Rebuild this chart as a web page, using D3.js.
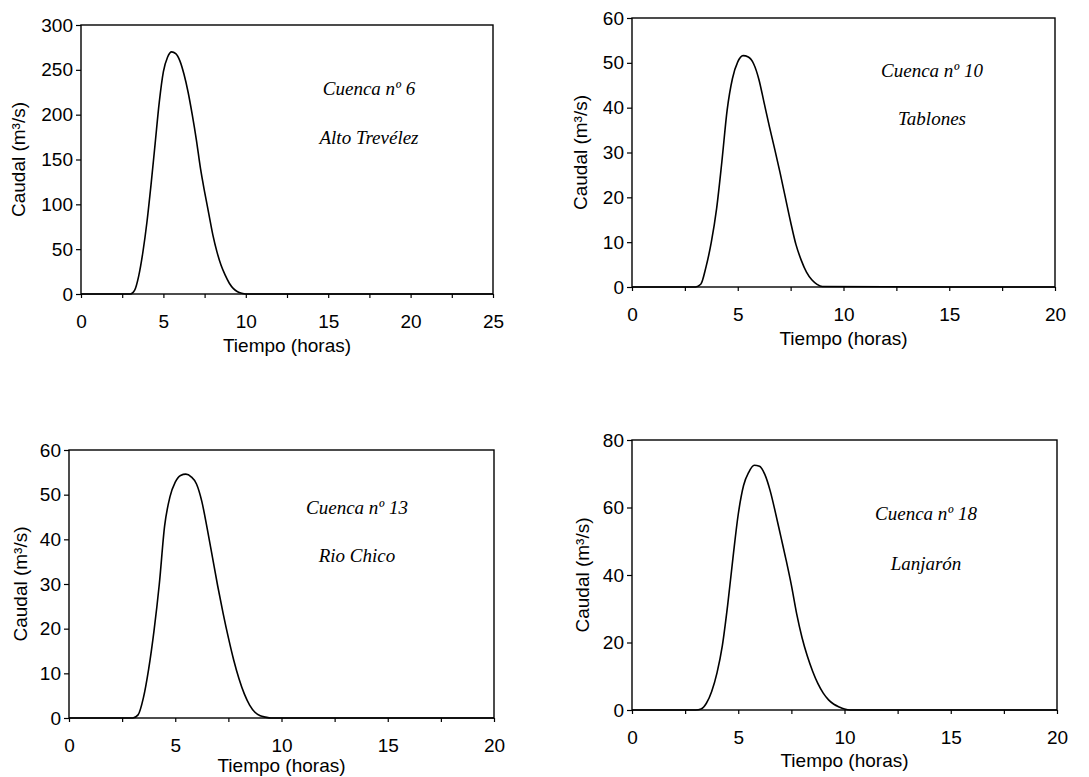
<!DOCTYPE html>
<html><head><meta charset="utf-8">
<script src="https://cdn.jsdelivr.net/npm/d3@7"></script>
<style>
html,body{margin:0;padding:0;background:#fff;}
svg{display:block;}
</style></head>
<body>
<svg id="chart" width="1089" height="777"></svg>
<script>
// ---- data ----
const t6  = [0,1,2,3,3.25,3.5,3.75,4,4.25,4.5,4.75,5,5.25,5.5,5.75,6,6.25,6.5,6.75,7,7.25,7.5,7.75,8,8.25,8.5,8.75,9,9.25,9.5,9.75,10,15,20,25];
const q6  = [0,0,0,0,4,20,46,80,122,168,214,248,264,270,268,260,245,225,200,172,140,114,90,66,47,32,21,12,6,2.5,0.8,0,0,0,0];

const t10 = [0,1,2,3,3.25,3.5,3.75,4,4.25,4.5,4.75,5,5.25,5.5,5.75,6,6.25,6.5,6.75,7,7.25,7.5,7.75,8,8.25,8.5,8.75,9,15,20];
const q10 = [0,0,0,0,0.6,4.5,10,17.5,28,39.5,46.5,50.2,51.6,51.3,49.8,46.3,41,35.7,30.7,25.5,20,14.5,9.5,6,3.3,1.6,0.6,0.1,0,0];

const t13 = [0,1,2,3,3.25,3.5,3.75,4,4.25,4.5,4.75,5,5.25,5.5,5.75,6,6.25,6.5,6.75,7,7.25,7.5,7.75,8,8.25,8.5,8.75,9,9.25,9.5,15,20];
const q13 = [0,0,0,0,0.7,4.5,11,19.5,30,43,49.5,52.8,54.3,54.6,54,52.4,48.5,42.5,36,29.5,23.5,18,13,8.8,5.4,2.9,1.3,0.5,0.2,0,0,0];

const t18 = [0,1,2,3,3.25,3.5,3.75,4,4.25,4.5,4.75,5,5.25,5.5,5.75,6,6.25,6.5,6.75,7,7.25,7.5,7.75,8,8.25,8.5,8.75,9,9.25,9.5,9.75,10,10.25,15,20];
const q18 = [0,0,0,0,0.3,2,5.5,11,19,31,45,58,66.5,70.5,72.5,72.2,69.8,65,58.5,51.5,44.5,37,28.5,21.5,16,11.5,7.8,5,3,1.7,0.9,0.3,0,0,0];

const xTicks25 = [0,5,10,15,20,25];
const xTicks20 = [0,5,10,15,20];
const yTicks300 = [0,50,100,150,200,250,300];
const yTicks60 = [0,10,20,30,40,50,60];
const yTicks80 = [0,20,40,60,80];

const titles = ["Cuenca nº 6","Cuenca nº 10","Cuenca nº 13","Cuenca nº 18"];
const names  = ["Alto Trevélez","Tablones","Rio Chico","Lanjarón"];
const xTitle = "Tiempo (horas)";
const yTitle = "Caudal (m³/s)";

// ---- layout ----
const panels = [
  {t:t6,  q:q6,  xt:xTicks25, yt:yTicks300, L:81,  R:493,  T:25,  B:294, ylx:18,  xtl:51, ax:369, ay1:88,  ay2:137, title:titles[0], name:names[0]},
  {t:t10, q:q10, xt:xTicks20, yt:yTicks60,  L:632, R:1055, T:18,  B:287, ylx:580, xtl:51, ax:932, ay1:70,  ay2:118, title:titles[1], name:names[1]},
  {t:t13, q:q13, xt:xTicks20, yt:yTicks60,  L:69,  R:494,  T:450, B:718, ylx:20,  xtl:47, ax:357, ay1:507, ay2:555, title:titles[2], name:names[2]},
  {t:t18, q:q18, xt:xTicks20, yt:yTicks80,  L:632, R:1057, T:440, B:710, ylx:582, xtl:50, ax:926, ay1:513, ay2:563, title:titles[3], name:names[3]}
];

const svg = d3.select("#chart");
const sans = "'Liberation Sans', Arial, sans-serif";
const serif = "'Liberation Serif', 'Times New Roman', serif";
const FS = 19;

panels.forEach(p => {
  const xmax = p.xt[p.xt.length-1], ymax = p.yt[p.yt.length-1];
  const x = d3.scaleLinear().domain([0, xmax]).range([p.L, p.R]);
  const y = d3.scaleLinear().domain([0, ymax]).range([p.B, p.T]);
  const g = svg.append("g");

  // frame
  g.append("rect").attr("x", p.L).attr("y", p.T).attr("width", p.R-p.L).attr("height", p.B-p.T)
    .attr("fill","none").attr("stroke","#000").attr("stroke-width",1.4);

  // x axis
  const minor = d3.range(0, xmax + 0.001, 2.5);
  const xa = d3.axisBottom(x).tickValues(minor).tickSize(4).tickPadding(17)
    .tickFormat(d => (d % 5 === 0) ? d3.format("d")(d) : "");
  const gx = g.append("g").attr("transform", `translate(0,${p.B})`).call(xa);
  gx.select(".domain").remove();
  gx.selectAll("line").attr("stroke","#000").attr("stroke-width",1.2);
  gx.selectAll("text").attr("font-family", sans).attr("font-size", FS).attr("fill","#000");

  // y axis
  const ya = d3.axisLeft(y).tickValues(p.yt).tickSize(5).tickPadding(3).tickFormat(d3.format("d"));
  const gy = g.append("g").attr("transform", `translate(${p.L},0)`).call(ya);
  gy.select(".domain").remove();
  gy.selectAll("line").attr("stroke","#000").attr("stroke-width",1.2);
  gy.selectAll("text").attr("font-family", sans).attr("font-size", FS).attr("fill","#000");

  // axis titles
  g.append("text").attr("x", (p.L+p.R)/2).attr("y", p.B + p.xtl).attr("dy","0.35em")
    .attr("text-anchor","middle").attr("font-family", sans).attr("font-size", FS).text(xTitle);
  g.append("text").attr("transform", `translate(${p.ylx},${(p.T+p.B)/2}) rotate(-90)`)
    .attr("dy","0.35em").attr("text-anchor","middle").attr("font-family", sans).attr("font-size", FS).text(yTitle);

  // hydrograph
  const data = p.t.map((tt,i) => [tt, p.q[i]]);
  const line = d3.line().x(d => x(d[0])).y(d => y(d[1])).curve(d3.curveMonotoneX);
  g.append("path").datum(data).attr("d", line).attr("fill","none").attr("stroke","#000").attr("stroke-width",1.6);

  // annotations
  g.append("text").attr("x", p.ax).attr("y", p.ay1).attr("dy","0.35em").attr("text-anchor","middle")
    .attr("font-family", serif).attr("font-style","italic").attr("font-size", 19).text(p.title);
  g.append("text").attr("x", p.ax).attr("y", p.ay2).attr("dy","0.35em").attr("text-anchor","middle")
    .attr("font-family", serif).attr("font-style","italic").attr("font-size", 19).text(p.name);
});
</script>
</body></html>
